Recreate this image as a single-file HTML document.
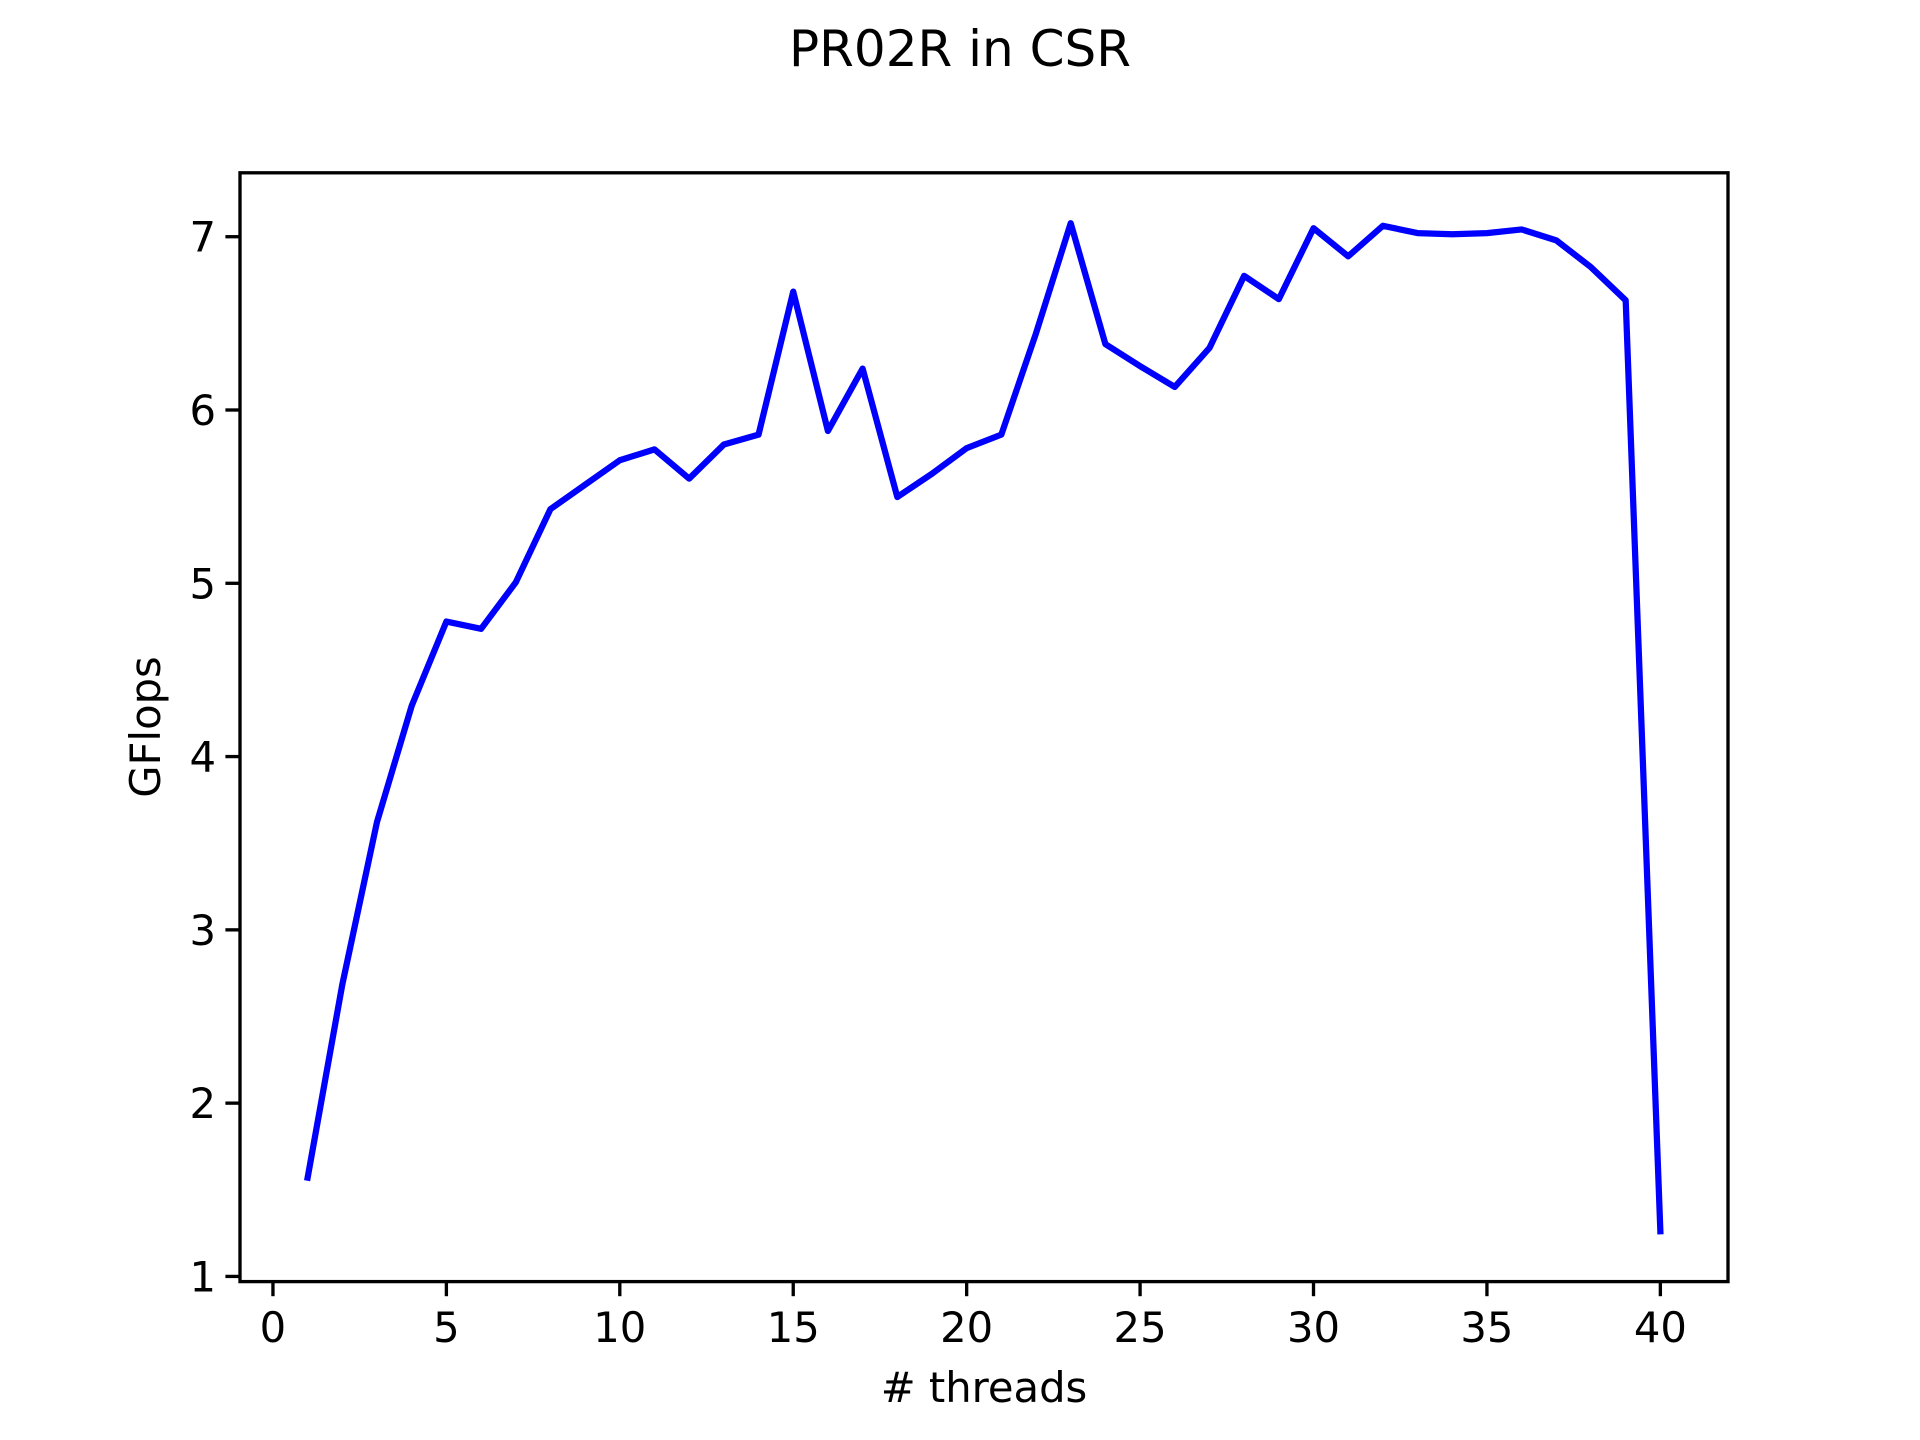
<!DOCTYPE html>
<html><head><meta charset="utf-8"><style>
html,body{margin:0;padding:0;background:#fff}
svg{display:block}
text{font-family:"DejaVu Sans","Liberation Sans",sans-serif;fill:#000}
</style></head><body>
<svg id="chart" width="1920" height="1440" viewBox="0 0 1920 1440" xmlns="http://www.w3.org/2000/svg">
<rect width="1920" height="1440" fill="#fff"/>
<text x="960" y="66" font-size="50" text-anchor="middle">PR02R in CSR</text>
<g id="ticks"></g>
<path id="series" fill="none" stroke="#0000ff" stroke-width="6.25" stroke-linejoin="round" stroke-linecap="square"/>
<rect x="240" y="172.8" width="1488" height="1108.8" fill="none" stroke="#000" stroke-width="3.33"/>
<text x="984" y="1402" font-size="41.7" text-anchor="middle"># threads</text>
<text x="160" y="727" font-size="41.7" text-anchor="middle" transform="rotate(-90 160 727)">GFlops</text>
</svg>
<script>
const threads = [1,2,3,4,5,6,7,8,9,10,11,12,13,14,15,16,17,18,19,20,21,22,23,24,25,26,27,28,29,30,31,32,33,34,35,36,37,38,39,40];
const gflops = [1.57,2.685,3.623,4.293,4.779,4.737,5.005,5.428,5.569,5.71,5.773,5.604,5.801,5.858,6.683,5.879,6.239,5.498,5.632,5.78,5.858,6.443,7.078,6.38,6.253,6.133,6.358,6.774,6.64,7.049,6.887,7.063,7.021,7.014,7.021,7.042,6.979,6.824,6.633,1.261];
const xTicks = [0,5,10,15,20,25,30,35,40];
const yTicks = [1,2,3,4,5,6,7];

const L=240,R=1728,T=172.8,B=1281.6;
const xmin=Math.min(...threads), xmax=Math.max(...threads), xpad=(xmax-xmin)*0.05;
const ymin=Math.min(...gflops), ymax=Math.max(...gflops), ypad=(ymax-ymin)*0.05;
const x0=xmin-xpad, x1=xmax+xpad, y0=ymin-ypad, y1=ymax+ypad;
const sx=v=>L+(v-x0)/(x1-x0)*(R-L);
const sy=v=>B-(v-y0)/(y1-y0)*(B-T);
const NS="http://www.w3.org/2000/svg";
const g=document.getElementById('ticks');
function mk(tag,attrs,parent){const e=document.createElementNS(NS,tag);for(const k in attrs)e.setAttribute(k,attrs[k]);parent.appendChild(e);return e;}
xTicks.forEach(t=>{
  const x=sx(t);
  const l=mk('line',{x1:x,x2:x,y1:B,y2:B+14.6,stroke:'#000','stroke-width':3.33},g);
  
  
  const tx=mk('text',{x:x,y:1342,'font-size':41.7,'text-anchor':'middle'},g);
  tx.textContent=t;
  
  
});
yTicks.forEach(t=>{
  const y=sy(t);
  const l=mk('line',{x1:L-14.6,x2:L,y1:y,y2:y,stroke:'#000','stroke-width':3.33},g);
  
  
  const tx=mk('text',{x:L-24,y:y+15,'font-size':41.7,'text-anchor':'end'},g);
  tx.textContent=t;
  
  
});
document.getElementById('series').setAttribute('d',threads.map((t,i)=>(i?'L':'M')+sx(t).toFixed(2)+' '+sy(gflops[i]).toFixed(2)).join(' '));
</script>
</body></html>
